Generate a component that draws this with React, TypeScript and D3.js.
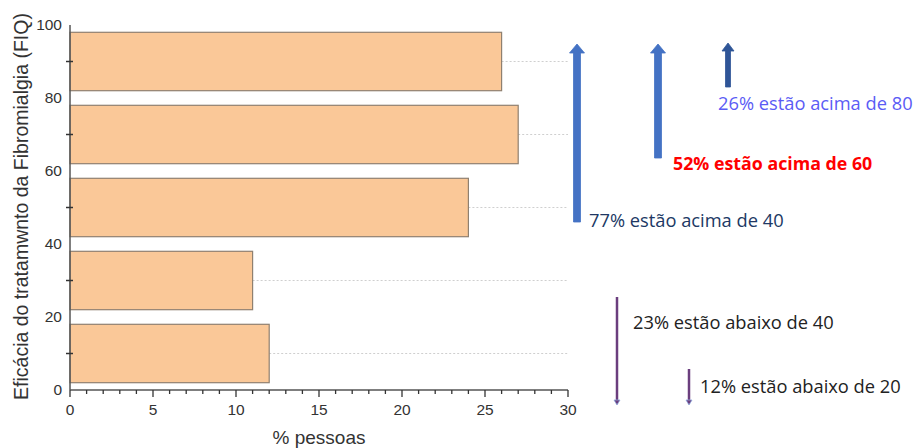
import React from "react";
import * as d3 from "d3";

const rangesLo = [0, 20, 40, 60, 80];
const rangesHi = [20, 40, 60, 80, 100];
const percentValues = [12, 11, 24, 27, 26];
const xTicks = [0, 5, 10, 15, 20, 25, 30];
const yTicks = [0, 20, 40, 60, 80, 100];
const yMinorTicks = [10, 30, 50, 70, 90];
const upLabels = ["77% estão acima de 40", "52% estão acima de 60", "26% estão acima de 80"];
const downLabels = ["23% estão abaixo de 40", "12% estão abaixo de 20"];
const xTitle = "% pessoas";
const yTitle = "Eficácia do tratamwnto da Fibromialgia (FIQ)";

const W = 917;
const H = 448;

function upArrow(cx: number, top: number, bottom: number, shaft: number, headW: number, headH: number) {
  const p = d3.path();
  p.moveTo(cx - shaft / 2, bottom);
  p.lineTo(cx - shaft / 2, top + headH);
  p.lineTo(cx - headW / 2, top + headH);
  p.lineTo(cx, top);
  p.lineTo(cx + headW / 2, top + headH);
  p.lineTo(cx + shaft / 2, top + headH);
  p.lineTo(cx + shaft / 2, bottom);
  p.closePath();
  return p.toString();
}

export default function App() {
  const x = d3.scaleLinear().domain([0, 30]).range([70, 568]);
  const y = d3.scaleLinear().domain([0, 100]).range([390, 25]);
  const xMinor = d3.range(0, 31, 1);
  const pad = 2;
  const axisColor = "#555";
  const labelFont = "'Liberation Sans', Arial, sans-serif";
  const annFont = "'Open Sans', 'Noto Sans', sans-serif";

  const up = [
    { cx: 577, top: 44, bottom: 222, shaft: 7, headW: 15, headH: 9, color: "#4472C4", tx: 589, ty: 227, fill: "#203864", weight: 400, fs: 18.3 },
    { cx: 658, top: 44, bottom: 158, shaft: 7, headW: 15, headH: 9, color: "#4472C4", tx: 673, ty: 170, fill: "#FF0000", weight: 700, fs: 17.8 },
    { cx: 728, top: 43, bottom: 87, shaft: 5, headW: 12, headH: 8, color: "#2F5597", tx: 718, ty: 110, fill: "#5B5BF5", weight: 400, fs: 18.3 },
  ];
  const down = [
    { cx: 617, top: 297, bottom: 405, tx: 633, ty: 329 },
    { cx: 689, top: 369, bottom: 405, tx: 700, ty: 393 },
  ];

  return (
    <svg width={W} height={H} style={{ position: "absolute", left: 0, top: 0 }}>
      <rect x={0} y={0} width={W} height={H} fill="#fff" />
      {percentValues.map((v, i) => (
        <line
          key={"g" + i}
          x1={x(v)}
          x2={x(30)}
          y1={y((rangesLo[i] + rangesHi[i]) / 2)}
          y2={y((rangesLo[i] + rangesHi[i]) / 2)}
          stroke="#cfcfcf"
          strokeWidth={1}
          strokeDasharray="2,2"
        />
      ))}
      {percentValues.map((v, i) => (
        <rect
          key={"b" + i}
          x={x(0)}
          y={y(rangesHi[i] - pad)}
          width={x(v) - x(0)}
          height={y(rangesLo[i] + pad) - y(rangesHi[i] - pad)}
          fill="#FAC898"
          stroke="#8f8070"
          strokeWidth={1.2}
        />
      ))}
      <line x1={x(0)} x2={x(0)} y1={y(100)} y2={y(0)} stroke={axisColor} strokeWidth={1.5} />
      {yMinorTicks.map((t) => (
        <line key={"ym" + t} x1={x(0) - 4} x2={x(0) + 3} y1={y(t)} y2={y(t)} stroke="#333" strokeWidth={1.5} />
      ))}
      {yTicks.map((t) => (
        <text key={"yl" + t} x={62} y={y(t) + 5} textAnchor="end" fontFamily={labelFont} fontSize={15.5} fill="#333">
          {t}
        </text>
      ))}
      <line x1={x(0)} x2={x(30)} y1={y(0)} y2={y(0)} stroke={axisColor} strokeWidth={1.5} />
      {xMinor.map((t) => (
        <line
          key={"xm" + t}
          x1={x(t)}
          x2={x(t)}
          y1={y(0)}
          y2={y(0) + (t % 5 === 0 ? 7 : 4)}
          stroke="#333"
          strokeWidth={1.3}
        />
      ))}
      {xTicks.map((t) => (
        <text key={"xl" + t} x={x(t)} y={415} textAnchor="middle" fontFamily={labelFont} fontSize={15.5} fill="#333">
          {t}
        </text>
      ))}
      <text x={(x(0) + x(30)) / 2} y={444} textAnchor="middle" fontFamily={labelFont} fontSize={19} fill="#333">
        {xTitle}
      </text>
      <text
        transform={`translate(28, 206.5) rotate(-90)`}
        textAnchor="middle"
        fontFamily={labelFont}
        fontSize={19.5}
        fill="#333"
      >
        {yTitle}
      </text>
      {up.map((a, i) => (
        <g key={"u" + i}>
          <path d={upArrow(a.cx, a.top, a.bottom, a.shaft, a.headW, a.headH)} fill={a.color} stroke={a.color} strokeWidth={0.8} />
          <text x={a.tx} y={a.ty} fontFamily={annFont} fontSize={a.fs} fontWeight={a.weight} fill={a.fill}>
            {upLabels[i]}
          </text>
        </g>
      ))}
      {down.map((a, i) => (
        <g key={"d" + i}>
          <line x1={a.cx} x2={a.cx} y1={a.top} y2={a.bottom - 4} stroke="#6B3E7E" strokeWidth={2.5} />
          <path
            d={`M${a.cx - 3},${a.bottom - 5} L${a.cx + 3},${a.bottom - 5} L${a.cx},${a.bottom} Z`}
            fill="#6B3E7E"
            stroke="#8FA8DA"
            strokeWidth={0.8}
          />
          <text x={a.tx} y={a.ty} fontFamily={annFont} fontSize={18.3} fill="#222">
            {downLabels[i]}
          </text>
        </g>
      ))}
    </svg>
  );
}
